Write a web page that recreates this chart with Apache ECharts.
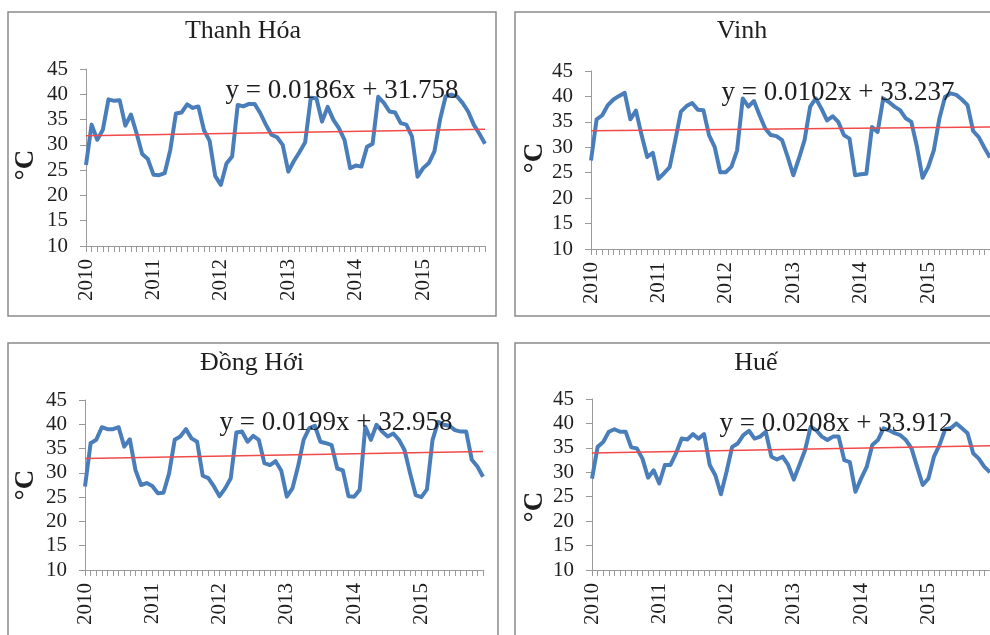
<!DOCTYPE html>
<html>
<head>
<meta charset="utf-8">
<script src="https://cdn.jsdelivr.net/npm/echarts@6/dist/echarts.min.js"></script>
<style>
  html, body { margin: 0; padding: 0; background: #fff; }
  #chart { width: 990px; height: 635px; }
</style>
</head>
<body>
<div id="chart"></div>
<script>
// monthly max temperatures, Jan 2010 .. Dec 2015
const years = ['2010', '2011', '2012', '2013', '2014', '2015'];

const thanhHoa = [
  26, 34, 31, 33, 39, 38.7, 38.8, 33.8, 36, 32.3, 28.2, 27.2,
  24.1, 24, 24.4, 29, 36.2, 36.4, 38, 37.3, 37.6, 32.9, 30.8, 23.8,
  22.1, 26.3, 27.7, 37.9, 37.6, 38.1, 38.1, 36.3, 34, 32, 31.5, 30,
  24.7, 26.8, 28.6, 30.5, 39.3, 39.2, 34.6, 37.5, 35, 33.3, 31, 25.4,
  25.9, 25.7, 29.6, 30.2, 39.5, 38.3, 36.6, 36.4, 34.3, 34, 31.7, 23.7,
  25.4, 26.4, 28.7, 35, 39.6, 39.9, 39.6, 38.3, 36.6, 34, 32.2, 30.2
];
const vinh = [
  27.4, 35.5, 36.3, 38.3, 39.4, 40.1, 40.7, 35.5, 37.2, 32.4, 28.1, 28.9,
  23.8, 24.9, 26.1, 31.4, 37, 38.1, 38.7, 37.4, 37.3, 32.4, 30.1, 25.1,
  25.1, 26.2, 29.4, 39.6, 38, 39.1, 36.3, 33.7, 32.4, 32.2, 31.4, 28.1,
  24.5, 27.8, 31.4, 38, 39.6, 37.6, 35.3, 36.1, 35, 32.4, 31.7, 24.5,
  24.7, 24.8, 34, 33, 39.6, 38.9, 38, 37.3, 35.7, 35, 30.1, 24,
  26.1, 29.4, 35.7, 39.9, 40.6, 40.3, 39.4, 38.3, 33.2, 32, 29.9, 28
];
const dongHoi = [
  27.2, 36.1, 36.8, 39.4, 39, 39, 39.4, 35.4, 36.9, 30.6, 27.5, 27.9,
  27.3, 25.8, 25.9, 29.9, 36.8, 37.5, 39, 37.1, 36.4, 29.4, 28.9, 27.2,
  25.2, 26.8, 28.9, 38.3, 38.5, 36.4, 37.6, 36.8, 32, 31.6, 32.4, 30.5,
  25.1, 26.8, 31.3, 36.8, 39.2, 39.7, 36.4, 36.1, 35.7, 30.9, 30.5, 25.2,
  25.1, 26.5, 39.5, 36.8, 39.9, 38.5, 37.5, 38.1, 36.8, 34.7, 29.9, 25.4,
  25, 26.6, 36.8, 40.5, 39.9, 39.7, 38.8, 38.5, 38.5, 32.7, 31.3, 29.2
];
const hue = [
  28.7, 35.2, 36.2, 38.3, 38.8, 38.3, 38.3, 35.1, 34.9, 32.8, 28.9, 30.4,
  27.7, 31.5, 31.5, 33.9, 36.9, 36.7, 37.8, 36.9, 37.8, 31.5, 29.4, 25.5,
  30.1, 35.2, 35.9, 37.6, 38.5, 36.9, 37.3, 38.3, 33.2, 32.6, 33.2, 31.5,
  28.5, 31.5, 34.5, 39.3, 38.6, 37.3, 36.6, 37.3, 37.3, 32.5, 32.1, 26,
  28.7, 31.1, 35.6, 36.6, 39, 38.6, 38, 37.6, 36.6, 34.9, 31.1, 27.4,
  28.7, 33.2, 35.6, 38.8, 39, 40, 39, 38, 33.9, 32.8, 31.1, 30
];

// linear trend [slope, intercept], x = month number 1..72
const thanhHoaTrend = [0.0186, 31.758];
const vinhTrend = [0.0102, 33.237];
const dongHoiTrend = [0.0199, 32.958];
const hueTrend = [0.0208, 33.912];

const yTicks = { min: 10, max: 45, interval: 5 };

const months = [];
years.forEach(y => {
  for (let m = 1; m <= 12; m++) months.push(y + '-' + m);
});

const FONT = "'Liberation Serif', 'Times New Roman', serif";
const TXT = '#1e1e1e';

const panels = [
  { name: 'Thanh Hóa', data: thanhHoa, trend: thanhHoaTrend,
    grid: { left: 86, top: 69, width: 399, height: 177 },
    box: [8, 12, 488, 304], title: [243, 31], eq: [342, 91], unit: [26, 165] },
  { name: 'Vinh', data: vinh, trend: vinhTrend,
    grid: { left: 591, top: 71, width: 402, height: 178 },
    box: [515, 12, 500, 304], title: [742, 31], eq: [838, 93], unit: [535, 158] },
  { name: 'Đồng Hới', data: dongHoi, trend: dongHoiTrend,
    grid: { left: 85, top: 400, width: 398, height: 170 },
    box: [8, 343, 490, 320], title: [252, 363], eq: [336, 423], unit: [26, 485] },
  { name: 'Huế', data: hue, trend: hueTrend,
    grid: { left: 592, top: 399, width: 400, height: 171 },
    box: [515, 343, 500, 320], title: [756, 363], eq: [836, 424], unit: [535, 507] }
];

const grids = [], xAxes = [], yAxes = [], series = [], graphics = [];

panels.forEach((p, i) => {
  grids.push(p.grid);
  xAxes.push({
    type: 'category', gridIndex: i, data: months, boundaryGap: false,
    axisLine: { lineStyle: { color: '#9a9a9a', width: 1 } },
    axisTick: { interval: 0, length: 6, lineStyle: { color: '#9a9a9a' } },
    axisLabel: {
      interval: idx => idx % 12 === 0,
      formatter: v => v.slice(0, 4),
      rotate: 90, margin: 13, padding: [8, 0, 0, 0],
      fontFamily: FONT, fontSize: 21, color: TXT
    },
    splitLine: { show: false }
  });
  yAxes.push({
    type: 'value', gridIndex: i, min: yTicks.min, max: yTicks.max, interval: yTicks.interval,
    axisLine: { show: true, lineStyle: { color: '#9a9a9a', width: 1 } },
    axisTick: { show: true, length: 6, lineStyle: { color: '#9a9a9a' } },
    axisLabel: { fontFamily: FONT, fontSize: 21, color: TXT, margin: 18 },
    splitLine: { show: false }
  });
  series.push({
    type: 'line', xAxisIndex: i, yAxisIndex: i, data: p.data,
    symbol: 'none', smooth: false, z: 3,
    lineStyle: { color: '#4a7ebb', width: 4, join: 'round' }
  });
  const [a, b] = p.trend;
  series.push({
    type: 'line', xAxisIndex: i, yAxisIndex: i,
    data: [[months[0], a * 1 + b], [months[71], a * 72 + b]],
    symbol: 'none', z: 4, silent: true,
    lineStyle: { color: '#f04a4a', width: 1.5 }
  });

  graphics.push({
    type: 'rect', z: 0,
    shape: { x: p.box[0], y: p.box[1], width: p.box[2], height: p.box[3] },
    style: { fill: 'none', stroke: '#8a8a8a', lineWidth: 1.5 }
  });
  graphics.push({
    type: 'text', z: 100, x: p.title[0], y: p.title[1],
    style: { text: p.name, font: '26px ' + FONT, fill: TXT, align: 'center', verticalAlign: 'middle' }
  });
  graphics.push({
    type: 'text', z: 100, x: p.eq[0], y: p.eq[1],
    style: { text: 'y = ' + a + 'x + ' + b, font: '27px ' + FONT, fill: TXT, align: 'center', verticalAlign: 'middle' }
  });
  graphics.push({
    type: 'text', z: 100, x: p.unit[0], y: p.unit[1], rotation: Math.PI / 2,
    style: { text: '°C', font: 'bold 27px ' + FONT, fill: TXT, align: 'center', verticalAlign: 'middle' }
  });
});

const chart = echarts.init(document.getElementById('chart'));
chart.setOption({
  animation: false,
  backgroundColor: '#fff',
  grid: grids,
  xAxis: xAxes,
  yAxis: yAxes,
  series: series,
  graphic: graphics
});
</script>
</body>
</html>
